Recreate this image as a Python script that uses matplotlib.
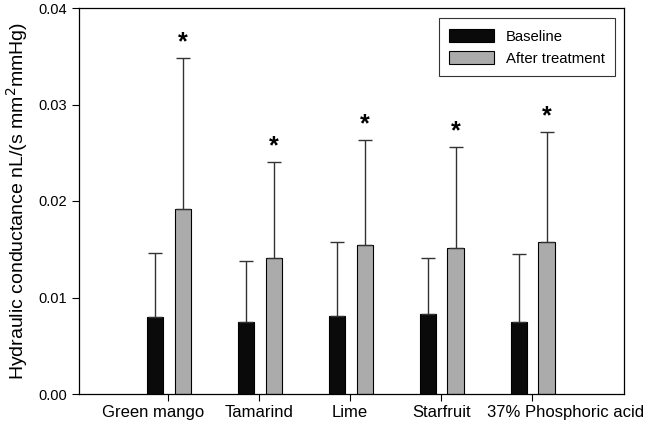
import numpy as np
import matplotlib
matplotlib.use("Agg")
import matplotlib.pyplot as plt
import matplotlib.transforms as mtransforms

plt.rcParams['font.family'] = ['Liberation Sans', 'DejaVu Sans']

# Data
categories = ["Green mango", "Tamarind", "Lime", "Starfruit", "37% Phosphoric acid"]
baseline = [0.0080, 0.0075, 0.0081, 0.0083, 0.0075]
baseline_err = [0.0066, 0.0063, 0.0076, 0.0058, 0.0070]
after = [0.0192, 0.0141, 0.0154, 0.0151, 0.0158]
after_err = [0.0156, 0.0099, 0.0109, 0.0105, 0.0113]

x = np.arange(len(categories))
w = 0.18

fig = plt.figure(figsize=(6.48, 4.28), dpi=100)
ax = fig.add_axes([79 / 648, 34 / 428, 545 / 648, 386 / 428])

err_kw = dict(ecolor='#333333', elinewidth=1.0, capsize=5, capthick=1.0)
ax.bar(x - 0.143, baseline, w, color='#0a0a0a', edgecolor='black', linewidth=0.8,
       yerr=[np.zeros(len(x)), baseline_err], error_kw=err_kw, label='Baseline')
ax.bar(x + 0.16, after, w, color='#ababab', edgecolor='black', linewidth=0.8,
       yerr=[np.zeros(len(x)), after_err], error_kw=err_kw, label='After treatment')

# significance stars
for xi, v, e in zip(x, after, after_err):
    ax.text(xi + 0.16, v + e + 0.0004, '*', ha='center', va='bottom', fontsize=18,
            fontweight='bold')

ax.set_xlim(-0.98, 5.01)
ax.set_ylim(0, 0.04)
ax.set_yticks([0, 0.01, 0.02, 0.03, 0.04])
ax.set_yticklabels(['0.00', '0.01', '0.02', '0.03', '0.04'])
ax.set_xticks(x)
ax.set_xticklabels(categories)
ax.tick_params(axis='y', labelsize=10.5, direction='out', length=5, width=0.8)
ax.tick_params(axis='x', labelsize=12, direction='out', length=5, width=0.8, pad=3)

# first and last category labels sit off-centre in the original
labels = ax.get_xticklabels()
labels[0].set_transform(labels[0].get_transform() +
                        mtransforms.ScaledTranslation(-15 / 100, 0, fig.dpi_scale_trans))
labels[-1].set_transform(labels[-1].get_transform() +
                         mtransforms.ScaledTranslation(33 / 100, 0, fig.dpi_scale_trans))

for s in ax.spines.values():
    s.set_linewidth(0.9)
ax.set_ylabel('Hydraulic conductance nL/(s mm$^2$mmHg)', fontsize=14, labelpad=6)

leg = ax.legend(loc='upper right', bbox_to_anchor=(0.9835, 0.973), fontsize=10.7,
                fancybox=False, edgecolor='black', handlelength=3.0,
                handleheight=1.0, handletextpad=0.8, borderpad=0.7,
                labelspacing=0.5, borderaxespad=0)
leg.get_frame().set_linewidth(0.8)

fig.savefig('out.png', dpi=100)
